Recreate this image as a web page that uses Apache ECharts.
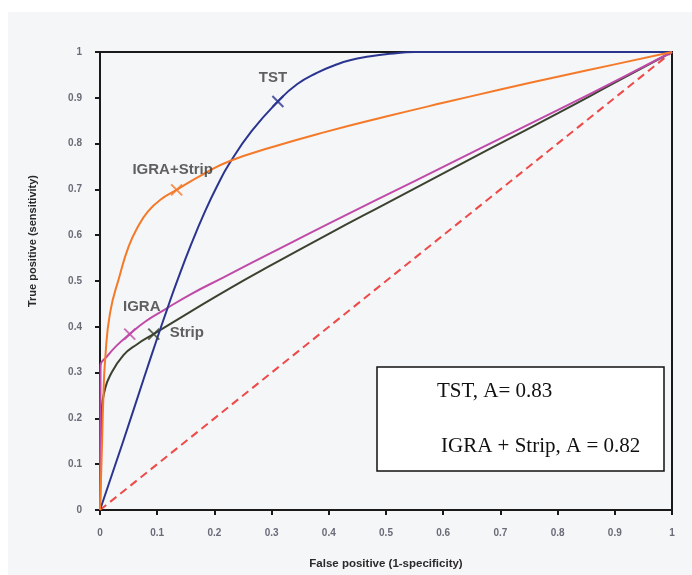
<!DOCTYPE html>
<html><head><meta charset="utf-8">
<script src="https://cdn.jsdelivr.net/npm/echarts@6/dist/echarts.min.js"></script>
<style>html,body{margin:0;padding:0;background:#fff}#c{width:692px;height:575px}</style>
</head><body><div id="c"></div>
<script>
// ---- data ----
const xTickLabels = ['0','0.1','0.2','0.3','0.4','0.5','0.6','0.7','0.8','0.9','1'];
const yTickLabels = ['0','0.1','0.2','0.3','0.4','0.5','0.6','0.7','0.8','0.9','1'];

const tstX = [0, 0.04, 0.076, 0.1, 0.117, 0.134, 0.16, 0.184, 0.205, 0.227, 0.265, 0.311, 0.345, 0.38, 0.41, 0.437, 0.47, 0.507, 0.55, 0.7, 0.85, 1];
const tstY = [0, 0.148, 0.285, 0.375, 0.437, 0.497, 0.582, 0.653, 0.708, 0.758, 0.827, 0.892, 0.93, 0.955, 0.971, 0.982, 0.99, 0.996, 1.0, 1.0, 1.0, 1.0];

const comboX = [0, 0.003, 0.006, 0.009, 0.0175, 0.034, 0.05, 0.067, 0.084, 0.105, 0.134, 0.18, 0.227, 0.3, 0.393, 0.5, 0.6, 0.7, 0.8, 0.9, 1];
const comboY = [0, 0.12, 0.25, 0.328, 0.43, 0.51, 0.575, 0.62, 0.652, 0.677, 0.699, 0.733, 0.762, 0.792, 0.825, 0.859, 0.889, 0.918, 0.946, 0.973, 1];

const igraX = [0, 0.001, 0.012, 0.03, 0.052, 0.08, 0.111, 0.16, 0.216, 0.3, 0.42, 0.55, 0.664, 0.8, 0.9, 1];
const igraY = [0, 0.315, 0.335, 0.36, 0.384, 0.412, 0.436, 0.472, 0.508, 0.562, 0.638, 0.718, 0.789, 0.873, 0.936, 1];

const stripX = [0, 0.001, 0.003, 0.008, 0.017, 0.041, 0.065, 0.095, 0.157, 0.227, 0.3, 0.4, 0.5, 0.682, 0.8, 0.9, 1];
const stripY = [0, 0.1, 0.22, 0.26, 0.292, 0.338, 0.362, 0.385, 0.432, 0.484, 0.535, 0.603, 0.669, 0.789, 0.866, 0.933, 1];

const diagX = [0, 1];
const diagY = [0, 1];

const markerNames = ['TST', 'IGRA+Strip', 'IGRA', 'Strip'];
const markerX = [0.311, 0.134, 0.052, 0.094];
const markerY = [0.892, 0.699, 0.384, 0.384];

const boxTexts = ['TST, A= 0.83', 'IGRA + Strip, A = 0.82'];

// ---- chart ----
const zip = (xs, ys) => xs.map((x, i) => [x, ys[i]]);
const colors = { tst: '#2b3590', combo: '#f47a2a', igra: '#c04aa8', strip: '#3b4330', diag: '#ef4a4a' };
const markerColors = [colors.tst, colors.combo, colors.igra, colors.strip];
const labelOffsets = [[-5, -24], [-4, -20], [12, -27], [33, -1]];
const X_PATH = 'path://M0,0L10,10M10,0L0,10';

const chart = echarts.init(document.getElementById('c'), null, { renderer: 'canvas' });

const lineSeries = (name, xs, ys, color, extra) => Object.assign({
  name, type: 'line', data: zip(xs, ys), showSymbol: false, symbol: 'none',
  smooth: 0.5, lineStyle: { color, width: 2 }, silent: true, z: 3
}, extra || {});

const tickFmt = (labels) => (v) => labels[Math.round(v * 10)] ?? '';

const option = {
  animation: false,
  backgroundColor: 'transparent',
  graphic: [
    { type: 'rect', shape: { x: 8, y: 12, width: 684, height: 563 }, style: { fill: '#f4f6f7' }, z: -10, silent: true },
    { type: 'rect', shape: { x: 377, y: 367, width: 287, height: 104 }, style: { fill: '#ffffff', stroke: '#111', lineWidth: 1.5 }, z: 50 },
    { type: 'text', x: 437, y: 391, z: 51, style: { text: boxTexts[0], font: '21px "Liberation Serif", "Times New Roman", serif', fill: '#111', verticalAlign: 'middle', align: 'left' } },
    { type: 'text', x: 441, y: 446, z: 51, style: { text: boxTexts[1], font: '21px "Liberation Serif", "Times New Roman", serif', fill: '#111', verticalAlign: 'middle', align: 'left' } }
  ],
  grid: { left: 100, right: 20, top: 52, bottom: 60, show: true, borderColor: '#1a1a1a', borderWidth: 2, backgroundColor: 'transparent' },
  xAxis: {
    type: 'value', min: 0, max: 1, interval: 0.1,
    name: 'False positive (1-specificity)', nameLocation: 'middle', nameGap: 48,
    nameTextStyle: { fontFamily: '"Liberation Sans", Arial, sans-serif', fontSize: 11.5, fontWeight: 'bold', color: '#2a2a2a' },
    axisLine: { lineStyle: { color: '#1a1a1a', width: 2 } },
    axisTick: { length: 5, lineStyle: { color: '#1a1a1a', width: 2 } },
    axisLabel: { formatter: tickFmt(xTickLabels), margin: 18, fontSize: 10, fontWeight: 'bold', color: '#6b6b78', fontFamily: '"Liberation Sans", Arial, sans-serif' },
    splitLine: { show: false }
  },
  yAxis: {
    type: 'value', min: 0, max: 1, interval: 0.1,
    name: 'True positive (sensitivity)', nameLocation: 'middle', nameGap: 62, nameRotate: 90,
    nameTextStyle: { fontFamily: '"Liberation Sans", Arial, sans-serif', fontSize: 11, fontWeight: 'bold', color: '#2a2a2a', padding: [0, 0, 0, 80] },
    axisLine: { lineStyle: { color: '#1a1a1a', width: 2 } },
    axisTick: { length: 5, lineStyle: { color: '#1a1a1a', width: 2 } },
    axisLabel: { formatter: tickFmt(yTickLabels), margin: 18, fontSize: 10, fontWeight: 'bold', color: '#6b6b78', fontFamily: '"Liberation Sans", Arial, sans-serif' },
    splitLine: { show: false }
  },
  series: [
    lineSeries('Chance', diagX, diagY, colors.diag, { smooth: false, lineStyle: { color: colors.diag, width: 2, type: [8, 5] } }),
    lineSeries('Strip', stripX, stripY, colors.strip),
    lineSeries('IGRA', igraX, igraY, colors.igra),
    lineSeries('TST', tstX, tstY, colors.tst),
    lineSeries('IGRA+Strip', comboX, comboY, colors.combo),
    {
      type: 'scatter', z: 10, silent: true,
      symbol: X_PATH, symbolSize: 11,
      data: markerNames.map((n, i) => ({
        name: n, value: [markerX[i], markerY[i]],
        itemStyle: { color: markerColors[i], borderColor: markerColors[i], borderWidth: 2 },
        label: {
          show: true, formatter: n, position: 'inside', offset: labelOffsets[i],
          fontFamily: '"Liberation Sans", Arial, sans-serif', fontSize: 15, fontWeight: 'bold', color: '#3a3a3a'
        }
      }))
    }
  ]
};
chart.setOption(option);
</script></body></html>
